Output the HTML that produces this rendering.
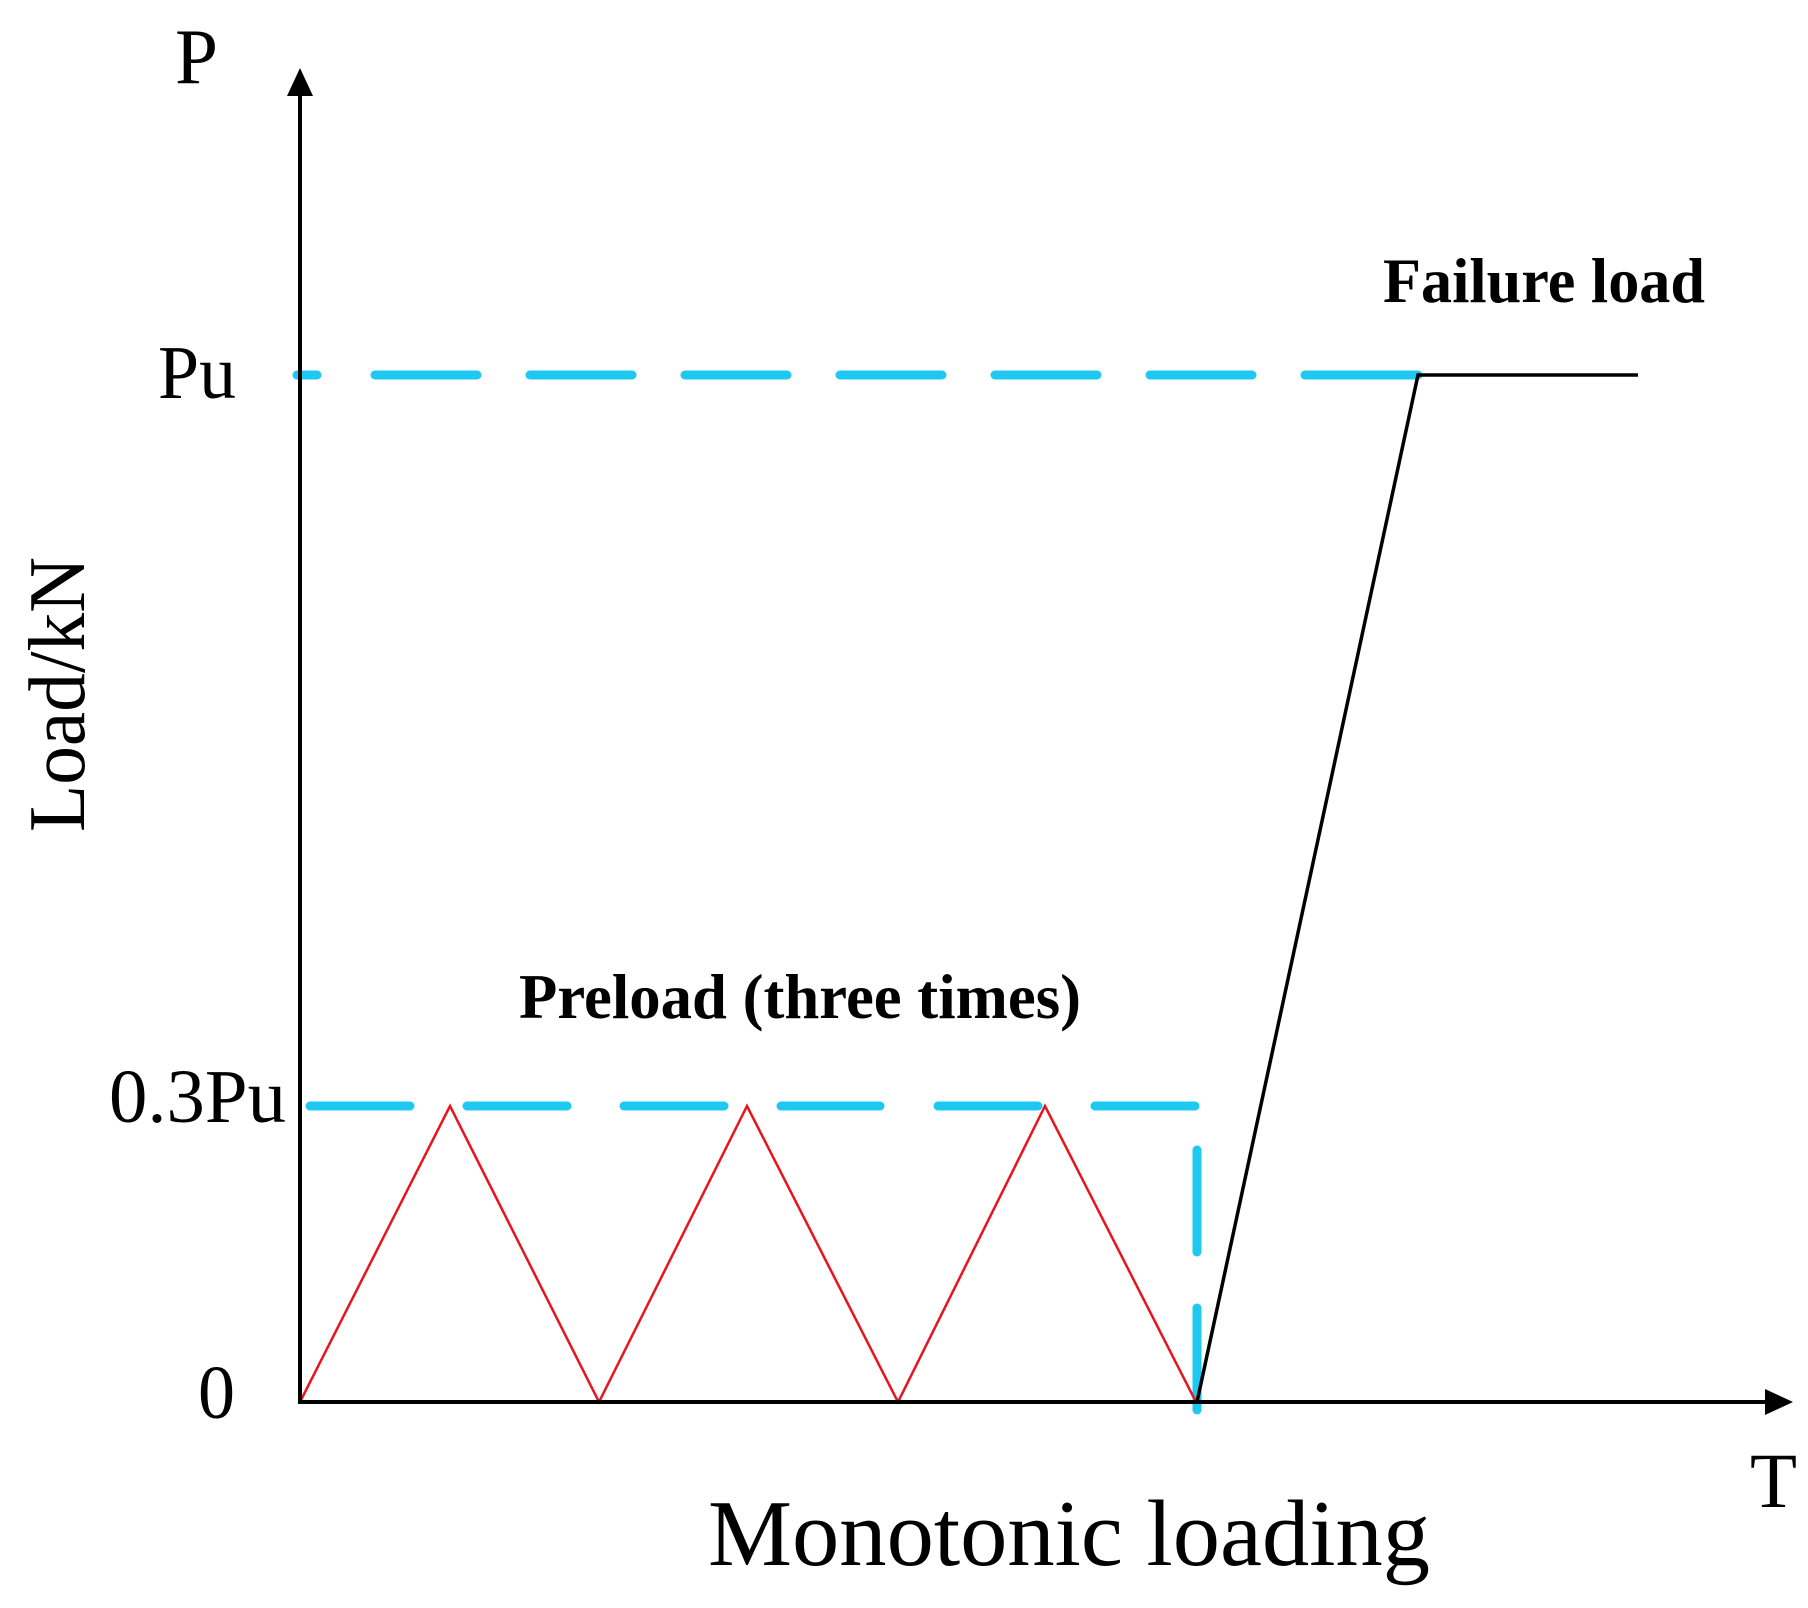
<!DOCTYPE html>
<html><head><meta charset="utf-8"><style>html,body{margin:0;padding:0;background:#fff}svg{display:block}</style></head>
<body>
<svg width="1808" height="1608" viewBox="0 0 1808 1608" xmlns="http://www.w3.org/2000/svg">
<rect width="1808" height="1608" fill="#fff"/>
<g stroke="#1ec8f0" stroke-width="9" stroke-linecap="round" fill="none">
<line x1="297" y1="375" x2="317" y2="375"/>
<line x1="375" y1="375" x2="477" y2="375"/>
<line x1="530" y1="375" x2="632" y2="375"/>
<line x1="685" y1="375" x2="787" y2="375"/>
<line x1="840" y1="375" x2="942" y2="375"/>
<line x1="995" y1="375" x2="1097" y2="375"/>
<line x1="1150" y1="375" x2="1252" y2="375"/>
<line x1="1305" y1="375" x2="1418" y2="375"/>
<line x1="310" y1="1106" x2="410" y2="1106"/>
<line x1="467" y1="1106" x2="567" y2="1106"/>
<line x1="624" y1="1106" x2="724" y2="1106"/>
<line x1="781" y1="1106" x2="880" y2="1106"/>
<line x1="938" y1="1106" x2="1038" y2="1106"/>
<line x1="1095" y1="1106" x2="1195" y2="1106"/>
<line x1="1197" y1="1150" x2="1197" y2="1252"/>
<line x1="1197" y1="1308" x2="1197" y2="1410"/>
</g>
<polyline points="300,1402 450,1106 599,1402 747,1106 898,1402 1045,1106 1196,1402" fill="none" stroke="#e8141c" stroke-width="2.5"/>
<polyline points="1197,1402 1418,375 1638,375" fill="none" stroke="#000" stroke-width="3.5"/>
<line x1="300" y1="1402" x2="300" y2="92" stroke="#000" stroke-width="4"/>
<polygon points="300,68 287,96 313,96" fill="#000"/>
<line x1="298" y1="1402" x2="1770" y2="1402" stroke="#000" stroke-width="4"/>
<polygon points="1793,1402 1765,1389 1765,1415" fill="#000"/>
<g font-family="'Liberation Serif', serif" fill="#000">
<text x="175" y="83" font-size="78" textLength="43" lengthAdjust="spacingAndGlyphs">P</text>
<text x="158" y="398" font-size="76" textLength="78" lengthAdjust="spacingAndGlyphs">Pu</text>
<text x="109" y="1122" font-size="76" textLength="177" lengthAdjust="spacingAndGlyphs">0.3Pu</text>
<text x="198" y="1418" font-size="76" textLength="37" lengthAdjust="spacingAndGlyphs">0</text>
<text x="1750" y="1507" font-size="78" textLength="47" lengthAdjust="spacingAndGlyphs">T</text>
<text x="708" y="1565" font-size="94" textLength="722" lengthAdjust="spacingAndGlyphs">Monotonic loading</text>
<text x="0" y="0" font-size="80" transform="translate(84,832) rotate(-90)" textLength="275" lengthAdjust="spacingAndGlyphs">Load/kN</text>
<text x="1383" y="302" font-size="64" font-weight="bold" textLength="322" lengthAdjust="spacingAndGlyphs">Failure load</text>
<text x="519" y="1018" font-size="64" font-weight="bold" textLength="562" lengthAdjust="spacingAndGlyphs">Preload (three times)</text>
</g>
</svg>
</body></html>
